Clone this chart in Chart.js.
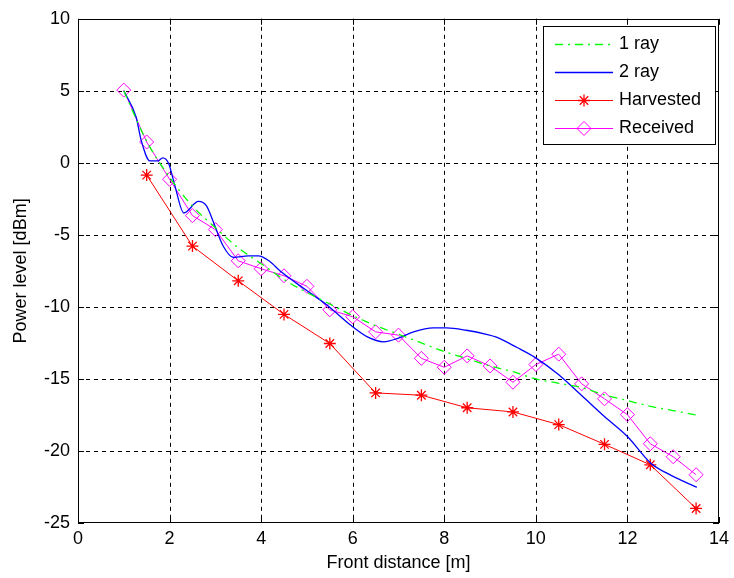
<!DOCTYPE html>
<html><head><meta charset="utf-8">
<script src="https://cdn.jsdelivr.net/npm/chart.js@4.4.1/dist/chart.umd.min.js"></script>
<style>html,body{margin:0;padding:0;background:#fff;overflow:hidden}canvas{display:block}</style>
</head><body>
<canvas id="c" width="734" height="578" style="width:734px;height:578px"></canvas>
<script>
// ---- data ----
const seriesNames = ['1 ray', '2 ray', 'Harvested', 'Received'];
const xTickValues = [0, 2, 4, 6, 8, 10, 12, 14];
const yTickValues = [10, 5, 0, -5, -10, -15, -20, -25];

const oneRayX = [1, 1.5, 2, 2.5, 3, 3.5, 4, 4.5, 5, 5.5, 6, 6.5, 7, 7.5, 8, 8.5, 9, 9.5, 10, 10.5, 11, 11.5, 12, 12.5, 13, 13.5];
const oneRayY = [5, 1.5, -1, -3, -4.5, -5.9, -7, -8.1, -9, -9.8, -10.6, -11.3, -11.9, -12.5, -13.1, -13.6, -14.1, -14.5, -15, -15.3, -15.6, -16.1, -16.5, -16.9, -17.2, -17.5];

const twoRayX = [1, 1.27, 1.38, 1.57, 1.75, 1.85, 1.98, 2.12, 2.31, 2.63, 2.81, 2.95, 3.17, 3.4, 3.72, 3.94, 4.16, 4.45, 4.95, 5.45, 5.96, 6.32, 6.68, 6.97, 7.33, 7.76, 8.05, 8.48, 8.92, 9.14, 9.59, 9.98, 10.48, 11.0, 11.51, 12.0, 12.51, 12.86, 13.23, 13.52];
const twoRayY = [5, 3.17, 1.56, 0.14, 0.14, 0.35, -0.04, -1.64, -3.48, -2.68, -3.0, -4.05, -5.77, -6.57, -6.46, -6.46, -6.78, -7.6, -8.76, -9.9, -11.28, -12.08, -12.42, -12.2, -11.73, -11.46, -11.46, -11.62, -11.9, -12.1, -12.82, -13.5, -14.66, -16.15, -17.64, -19.0, -20.85, -21.54, -22.11, -22.52];

const harvestedX = [1.5, 2.5, 3.5, 4.5, 5.5, 6.5, 7.5, 8.5, 9.5, 10.5, 11.5, 12.5, 13.5];
const harvestedY = [-0.85, -5.78, -8.19, -10.52, -12.54, -15.97, -16.13, -17.0, -17.29, -18.17, -19.54, -20.96, -23.99];

const receivedX = [1, 1.5, 2, 2.5, 3, 3.5, 4, 4.5, 5, 5.5, 6, 6.5, 7, 7.5, 8, 8.5, 9, 9.5, 10, 10.5, 11, 11.5, 12, 12.5, 13, 13.5];
const receivedY = [5.05, 1.45, -1.14, -3.66, -4.63, -6.8, -7.35, -7.84, -8.57, -10.2, -10.68, -11.73, -11.96, -13.57, -14.19, -13.4, -14.1, -15.23, -14.0, -13.28, -15.34, -16.38, -17.48, -19.5, -20.4, -21.65];

const pts = (xs, ys) => xs.map((x, i) => ({x: x, y: ys[i]}));
const FONT = "'Liberation Sans', Arial, Helvetica, sans-serif";

const datasets = [
  {label: seriesNames[0], data: pts(oneRayX, oneRayY), borderColor: '#00ff00', borderWidth: 1.3,
   borderDash: [8, 5, 2, 5], pointRadius: 0, cubicInterpolationMode: 'monotone', fill: false},
  {label: seriesNames[1], data: pts(twoRayX, twoRayY), borderColor: '#0000ff', borderWidth: 1.3,
   pointRadius: 0, cubicInterpolationMode: 'monotone', fill: false},
  {label: seriesNames[2], data: pts(harvestedX, harvestedY), borderColor: '#ff0000', borderWidth: 1,
   pointStyle: 'star', pointRadius: 6, pointBorderWidth: 1.3, pointBorderColor: '#ff0000',
   pointBackgroundColor: '#ff0000', tension: 0, fill: false},
  {label: seriesNames[3], data: pts(receivedX, receivedY), borderColor: '#ff00ff', borderWidth: 1,
   pointStyle: 'rectRot', pointRadius: 7, pointBorderWidth: 1, pointBorderColor: '#ff00ff',
   pointBackgroundColor: 'rgba(0,0,0,0)', tension: 0, fill: false}
];

const gridFrame = {
  id: 'gridFrame',
  beforeDatasetsDraw(chart) {
    const {ctx, chartArea: a, scales: {x, y}} = chart;
    ctx.save();
    ctx.strokeStyle = '#000'; ctx.lineWidth = 1; ctx.setLineDash([4, 4]);
    xTickValues.forEach(v => {
      if (v <= x.min || v >= x.max) return;
      const p = Math.round(x.getPixelForValue(v)) + 0.5;
      ctx.beginPath(); ctx.moveTo(p, a.top); ctx.lineTo(p, a.bottom); ctx.stroke();
    });
    yTickValues.forEach(v => {
      if (v <= y.min || v >= y.max) return;
      const p = Math.round(y.getPixelForValue(v)) + 0.5;
      ctx.beginPath(); ctx.moveTo(a.left, p); ctx.lineTo(a.right, p); ctx.stroke();
    });
    ctx.restore();
  },
  afterDatasetsDraw(chart) {
    const {ctx, chartArea: a, scales: {x, y}} = chart;
    ctx.save();
    ctx.strokeStyle = '#000'; ctx.lineWidth = 1; ctx.setLineDash([]);
    const L = 6;
    xTickValues.forEach(v => {
      const p = Math.round(x.getPixelForValue(v)) + 0.5;
      ctx.beginPath(); ctx.moveTo(p, a.bottom); ctx.lineTo(p, a.bottom - L);
      ctx.moveTo(p, a.top); ctx.lineTo(p, a.top + L); ctx.stroke();
    });
    yTickValues.forEach(v => {
      const p = Math.round(y.getPixelForValue(v)) + 0.5;
      ctx.beginPath(); ctx.moveTo(a.left, p); ctx.lineTo(a.left + L, p);
      ctx.moveTo(a.right, p); ctx.lineTo(a.right - L, p); ctx.stroke();
    });
    ctx.strokeRect(Math.round(a.left) + 0.5, Math.round(a.top) + 0.5, Math.round(a.width) - 1, Math.round(a.height) - 1);
    ctx.restore();
  },
  afterDraw(chart) {
    const ctx = chart.ctx;
    const bx = 543, by = 26, bw = 172, bh = 118;
    ctx.save();
    ctx.fillStyle = '#fff';
    ctx.fillRect(bx, by, bw, bh);
    ctx.strokeStyle = '#000'; ctx.lineWidth = 1;
    ctx.strokeRect(bx + 0.5, by + 0.5, bw, bh);
    chart.data.datasets.forEach((ds, i) => {
      const ry = Math.round(43.5 + i * 28) + 0.5;
      ctx.strokeStyle = ds.borderColor;
      ctx.lineWidth = ds.borderWidth;
      ctx.setLineDash(ds.borderDash || []);
      ctx.beginPath(); ctx.moveTo(555, ry); ctx.lineTo(613, ry); ctx.stroke();
      ctx.setLineDash([]);
      if (ds.pointRadius > 0) {
        ctx.strokeStyle = ds.pointBorderColor;
        ctx.fillStyle = ds.pointBackgroundColor;
        ctx.lineWidth = ds.pointBorderWidth;
        Chart.helpers.drawPoint(ctx, {pointStyle: ds.pointStyle, radius: ds.pointRadius, rotation: 0, borderWidth: ds.pointBorderWidth}, 584, ry);
      }
      ctx.fillStyle = '#000';
      ctx.font = '18px ' + FONT;
      ctx.textBaseline = 'middle';
      ctx.textAlign = 'left';
      ctx.fillText(ds.label, 619, ry);
    });
    ctx.restore();
  }
};

new Chart(document.getElementById('c'), {
  type: 'line',
  data: {datasets: datasets},
  options: {
    responsive: false,
    animation: false,
    devicePixelRatio: 1,
    layout: {padding: {top: 14, right: 9, left: 0, bottom: 0}},
    plugins: {legend: {display: false}, tooltip: {enabled: false}},
    scales: {
      x: {
        type: 'linear', min: 0, max: 14,
        afterBuildTicks: s => { s.ticks = xTickValues.map(v => ({value: v})); },
        afterFit: s => { s.height = 55; },
        grid: {display: false, drawTicks: false},
        border: {display: false},
        ticks: {padding: 5, color: '#000', maxRotation: 0, autoSkip: false,
                font: {family: FONT, size: 18}, callback: v => String(v)},
        title: {display: true, text: 'Front distance [m]', color: '#000',
                font: {family: FONT, size: 18}, padding: {top: 0, bottom: 4}}
      },
      y: {
        type: 'linear', min: -25, max: 10,
        afterBuildTicks: s => { s.ticks = yTickValues.slice().reverse().map(v => ({value: v})); },
        afterFit: s => { s.width = 78; },
        grid: {display: false, drawTicks: false},
        border: {display: false},
        ticks: {padding: 8, color: '#000', autoSkip: false,
                font: {family: FONT, size: 18}, callback: v => String(v)},
        title: {display: true, text: 'Power level [dBm]', color: '#000',
                font: {family: FONT, size: 18}, padding: {top: 10, bottom: 0}}
      }
    }
  },
  plugins: [gridFrame]
});
</script>
</body></html>
